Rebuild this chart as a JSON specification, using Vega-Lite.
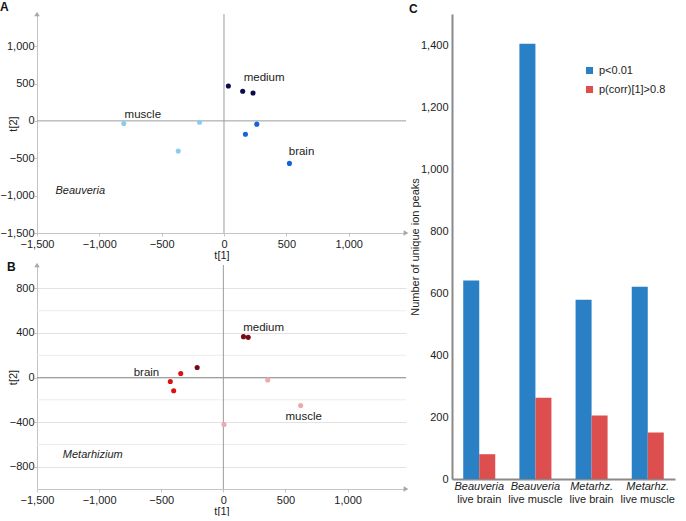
{
  "$schema": "https://vega.github.io/schema/vega-lite/v6.json",
  "background": "white",
  "padding": {"left": 0, "top": 0, "right": 8, "bottom": 0},
  "config": {
    "font": "Liberation Sans",
    "view": {"stroke": null},
    "title": {"fontSize": 12, "fontWeight": "bold", "anchor": "start", "frame": "bounds", "offset": -2, "color": "#111"},
    "axis": {"labelFontSize": 11, "labelColor": "#222", "titleFontSize": 11, "titleFontWeight": "normal", "titleColor": "#222", "labelFlush": false, "labelOverlap": false}
  },
  "resolve": {"scale": {"color": "independent", "x": "independent", "y": "independent"}},
  "spacing": 0,
  "hconcat": [
    {
      "spacing": 0,
      "resolve": {"scale": {"color": "independent", "x": "independent", "y": "independent"}},
      "vconcat": [
        {
          "title": {"text": "A"},
          "width": 369,
          "height": 219,
          "layer": [
            {
              "data": {"values": [{}]},
              "mark": {"type": "rule", "color": "#9c9c9c", "strokeWidth": 1},
              "encoding": {"x": {"datum": 0, "type": "quantitative"}}
            },
            {
              "data": {"values": [{}]},
              "mark": {"type": "rule", "color": "#9c9c9c", "strokeWidth": 1},
              "encoding": {"y": {"datum": 0, "type": "quantitative"}}
            },
            {
              "data": {"values": [
                {"group": "medium", "x": 35, "y": 467},
                {"group": "medium", "x": 150, "y": 396},
                {"group": "medium", "x": 233, "y": 373},
                {"group": "brain", "x": 263, "y": -44},
                {"group": "brain", "x": 172, "y": -178},
                {"group": "brain", "x": 525, "y": -569},
                {"group": "muscle", "x": -804, "y": -36},
                {"group": "muscle", "x": -196, "y": -18},
                {"group": "muscle", "x": -367, "y": -404}
              ]},
              "mark": {"type": "point", "filled": true, "opacity": 1, "size": 26},
              "encoding": {
                "x": {"field": "x", "type": "quantitative", "scale": {"domain": [-1500, 1460], "nice": false, "zero": false},
                  "axis": {"title": "t[1]", "values": [-1500, -1000, -500, 0, 500, 1000], "labelExpr": "format(datum.value, ',')", "gridColor": "#e2e2e2", "domainColor": "#c4c4c4", "tickColor": "#c4c4c4", "tickSize": 3, "labelPadding": 2, "titleY": 16, "titleBaseline": "top"}},
                "y": {"field": "y", "type": "quantitative", "scale": {"domain": [-1500, 1430], "nice": false, "zero": false},
                  "axis": {"title": "t[2]", "values": [-1500, -1000, -500, 0, 500, 1000], "labelExpr": "format(datum.value, ',')", "gridColor": "#e2e2e2", "domainColor": "#c4c4c4", "tickColor": "#c4c4c4", "tickSize": 3, "labelPadding": 0, "titleX": -19}},
                "color": {"field": "group", "type": "nominal", "legend": null,
                  "scale": {"domain": ["medium", "brain", "muscle"], "range": ["#0b0b4f", "#1565d8", "#8ecbee"]}}
              }
            },
            {
              "data": {"values": [
                {"label": "medium", "x": 322, "y": 578},
                {"label": "muscle", "x": -651, "y": 80},
                {"label": "brain", "x": 622, "y": -422}
              ]},
              "mark": {"type": "text", "fontSize": 11.5, "color": "#222", "align": "center", "baseline": "middle"},
              "encoding": {
                "x": {"field": "x", "type": "quantitative"},
                "y": {"field": "y", "type": "quantitative"},
                "text": {"field": "label"}
              }
            },
            {
              "data": {"values": [{"label": "Beauveria", "x": -1153, "y": -933}]},
              "mark": {"type": "text", "fontSize": 11, "fontStyle": "italic", "color": "#222", "align": "center", "baseline": "middle"},
              "encoding": {
                "x": {"field": "x", "type": "quantitative"},
                "y": {"field": "y", "type": "quantitative"},
                "text": {"field": "label"}
              }
            },
            {
              "data": {"values": [{"x": -1500, "y": 1430, "shape": "triangle-up"}, {"x": 1460, "y": -1500, "shape": "triangle-right"}]},
              "mark": {"type": "point", "filled": true, "opacity": 1, "size": 30, "color": "#a8a8a8"},
              "encoding": {
                "x": {"field": "x", "type": "quantitative"},
                "y": {"field": "y", "type": "quantitative"},
                "shape": {"field": "shape", "type": "nominal", "scale": null}
              }
            }
          ]
        },
        {
          "title": {"text": "B", "offset": -11},
          "width": 369,
          "height": 224,
          "layer": [
            {
              "data": {"values": [{"g": -600}, {"g": -200}, {"g": 200}, {"g": 600}]},
              "mark": {"type": "rule", "color": "#ececec", "strokeWidth": 1},
              "encoding": {"y": {"field": "g", "type": "quantitative"}}
            },
            {
              "data": {"values": [{}]},
              "mark": {"type": "rule", "color": "#9c9c9c", "strokeWidth": 1},
              "encoding": {"x": {"datum": 0, "type": "quantitative"}}
            },
            {
              "data": {"values": [{}]},
              "mark": {"type": "rule", "color": "#9c9c9c", "strokeWidth": 1},
              "encoding": {"y": {"datum": 0, "type": "quantitative"}}
            },
            {
              "data": {"values": [
                {"group": "medium", "x": 162, "y": 367},
                {"group": "medium", "x": 200, "y": 361},
                {"group": "medium", "x": -211, "y": 90},
                {"group": "brain", "x": -343, "y": 36},
                {"group": "brain", "x": -427, "y": -36},
                {"group": "brain", "x": -400, "y": -119},
                {"group": "muscle", "x": 357, "y": -21},
                {"group": "muscle", "x": 622, "y": -251},
                {"group": "muscle", "x": 5, "y": -421}
              ]},
              "mark": {"type": "point", "filled": true, "opacity": 1, "size": 26},
              "encoding": {
                "x": {"field": "x", "type": "quantitative", "scale": {"domain": [-1500, 1470], "nice": false, "zero": false},
                  "axis": {"title": "t[1]", "values": [-1500, -1000, -500, 0, 500, 1000], "labelExpr": "format(datum.value, ',')", "gridColor": "#e2e2e2", "domainColor": "#c4c4c4", "tickColor": "#c4c4c4", "tickSize": 3, "labelPadding": 2, "titleY": 16, "titleBaseline": "top"}},
                "y": {"field": "y", "type": "quantitative", "scale": {"domain": [-1000, 1010], "nice": false, "zero": false},
                  "axis": {"title": "t[2]", "values": [-800, -400, 0, 400, 800], "labelExpr": "format(datum.value, ',')", "gridColor": "#e2e2e2", "domainColor": "#c4c4c4", "tickColor": "#c4c4c4", "tickSize": 3, "labelPadding": 0, "titleX": -19}},
                "color": {"field": "group", "type": "nominal", "legend": null,
                  "scale": {"domain": ["medium", "brain", "muscle"], "range": ["#7a0a14", "#dd1111", "#f0a8b0"]}}
              }
            },
            {
              "data": {"values": [
                {"label": "medium", "x": 324, "y": 448},
                {"label": "brain", "x": -619, "y": 45},
                {"label": "muscle", "x": 646, "y": -358}
              ]},
              "mark": {"type": "text", "fontSize": 11.5, "color": "#222", "align": "center", "baseline": "middle"},
              "encoding": {
                "x": {"field": "x", "type": "quantitative"},
                "y": {"field": "y", "type": "quantitative"},
                "text": {"field": "label"}
              }
            },
            {
              "data": {"values": [{"label": "Metarhizium", "x": -1051, "y": -693}]},
              "mark": {"type": "text", "fontSize": 11, "fontStyle": "italic", "color": "#222", "align": "center", "baseline": "middle"},
              "encoding": {
                "x": {"field": "x", "type": "quantitative"},
                "y": {"field": "y", "type": "quantitative"},
                "text": {"field": "label"}
              }
            },
            {
              "data": {"values": [{"x": -1500, "y": 1010, "shape": "triangle-up"}, {"x": 1470, "y": -1000, "shape": "triangle-right"}]},
              "mark": {"type": "point", "filled": true, "opacity": 1, "size": 30, "color": "#a8a8a8"},
              "encoding": {
                "x": {"field": "x", "type": "quantitative"},
                "y": {"field": "y", "type": "quantitative"},
                "shape": {"field": "shape", "type": "nominal", "scale": null}
              }
            }
          ]
        }
      ]
    },
    {
      "title": {"text": "C"},
      "width": 223,
      "height": 465,
      "layer": [
        {
          "data": {"values": [
            {"cat": "Beauveria live brain", "series": "p<0.01", "value": 640},
            {"cat": "Beauveria live brain", "series": "p(corr)[1]>0.8", "value": 80},
            {"cat": "Beauveria live muscle", "series": "p<0.01", "value": 1404},
            {"cat": "Beauveria live muscle", "series": "p(corr)[1]>0.8", "value": 262},
            {"cat": "Metarhz. live brain", "series": "p<0.01", "value": 578},
            {"cat": "Metarhz. live brain", "series": "p(corr)[1]>0.8", "value": 205},
            {"cat": "Metarhz. live muscle", "series": "p<0.01", "value": 620},
            {"cat": "Metarhz. live muscle", "series": "p(corr)[1]>0.8", "value": 150}
          ]},
          "mark": {"type": "bar"},
          "encoding": {
            "x": {"field": "cat", "type": "nominal", "sort": null,
              "scale": {"paddingInner": 0.43, "paddingOuter": 0.2},
              "axis": {"title": null, "labels": false, "ticks": false, "domainColor": "#8a8a8a", "domainWidth": 2}},
            "xOffset": {"field": "series", "type": "nominal", "sort": null, "scale": {"paddingInner": 0, "paddingOuter": 0}},
            "y": {"field": "value", "type": "quantitative", "scale": {"domain": [0, 1500], "nice": false},
              "axis": {"title": "Number of unique ion peaks", "values": [0, 200, 400, 600, 800, 1000, 1200, 1400], "labelExpr": "format(datum.value, ',')", "grid": false, "ticks": false, "labelPadding": 4, "domainColor": "#8a8a8a", "domainWidth": 2, "titleX": -32}},
            "color": {"field": "series", "type": "nominal", "sort": null,
              "scale": {"domain": ["p<0.01", "p(corr)[1]>0.8"], "range": ["#2a80c4", "#dd4f4f"]},
              "legend": {"title": null, "orient": "none", "legendX": 132, "legendY": 51, "padding": 0, "symbolType": "square", "symbolSize": 50, "symbolStrokeWidth": 0, "labelFontSize": 11, "labelColor": "#222", "labelOffset": 4, "rowPadding": 7}}
          }
        },
        {
          "data": {"values": [
            {"cat": "Beauveria live brain", "genus": "Beauveria", "cond": "live brain"},
            {"cat": "Beauveria live muscle", "genus": "Beauveria", "cond": "live muscle"},
            {"cat": "Metarhz. live brain", "genus": "Metarhz.", "cond": "live brain"},
            {"cat": "Metarhz. live muscle", "genus": "Metarhz.", "cond": "live muscle"}
          ]},
          "mark": {"type": "text", "fontSize": 11, "fontStyle": "italic", "color": "#222", "baseline": "middle", "dy": 8},
          "encoding": {
            "x": {"field": "cat", "type": "nominal", "sort": null},
            "y": {"datum": 0, "type": "quantitative"},
            "text": {"field": "genus"}
          }
        },
        {
          "data": {"values": [
            {"cat": "Beauveria live brain", "genus": "Beauveria", "cond": "live brain"},
            {"cat": "Beauveria live muscle", "genus": "Beauveria", "cond": "live muscle"},
            {"cat": "Metarhz. live brain", "genus": "Metarhz.", "cond": "live brain"},
            {"cat": "Metarhz. live muscle", "genus": "Metarhz.", "cond": "live muscle"}
          ]},
          "mark": {"type": "text", "fontSize": 11, "color": "#222", "baseline": "middle", "dy": 21},
          "encoding": {
            "x": {"field": "cat", "type": "nominal", "sort": null},
            "y": {"datum": 0, "type": "quantitative"},
            "text": {"field": "cond"}
          }
        }
      ]
    }
  ]
}
